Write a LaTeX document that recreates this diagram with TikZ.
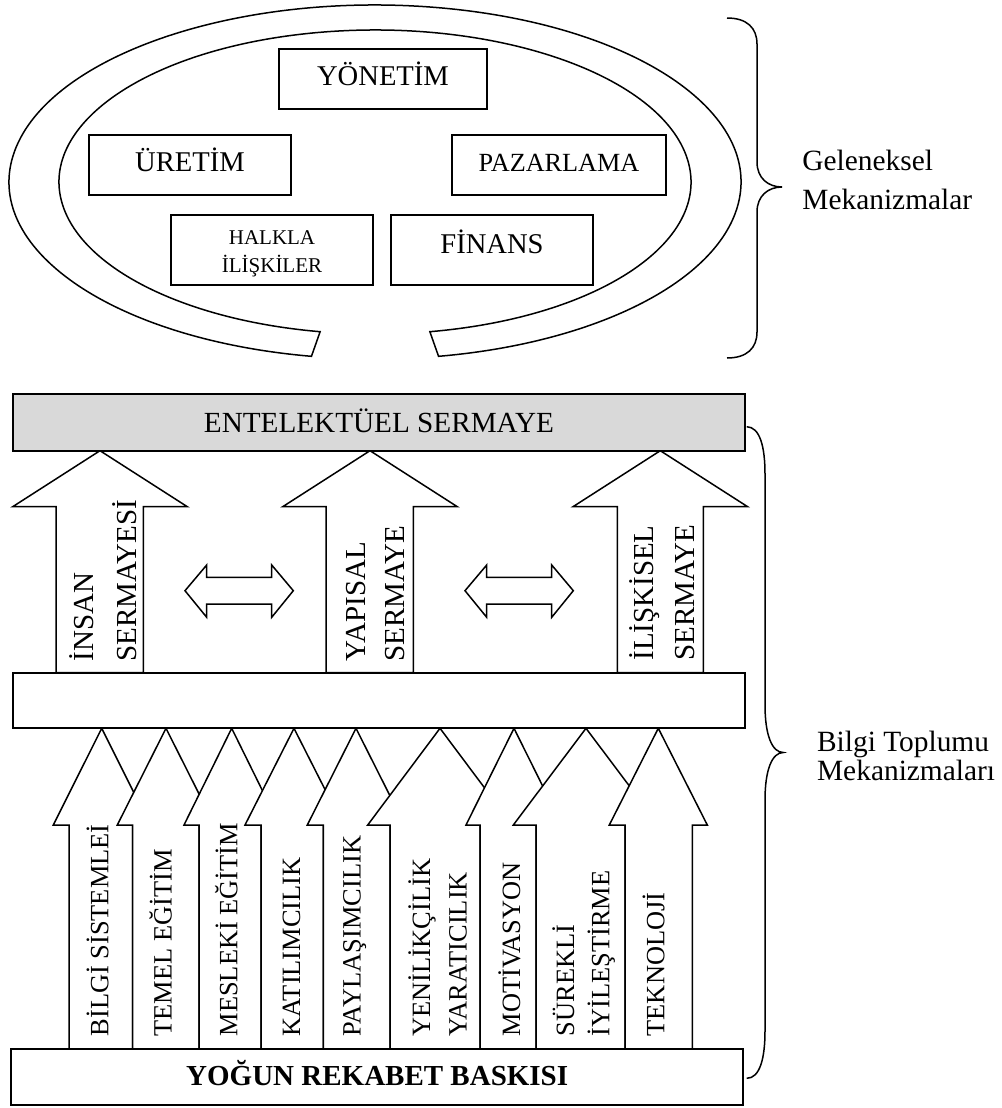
\documentclass[tikz,border=0pt]{standalone}
\usepackage{fontspec}
\setmainfont{Liberation Serif}
\usetikzlibrary{calc}

\definecolor{entgray}{HTML}{D9D9D9}

\begin{document}
\begin{tikzpicture}[
        x=0.5pt, y=0.5pt,
        box/.style={rectangle, draw, fill=white, line width=1pt, inner sep=0pt, font=\fontsize{14.3}{17}\selectfont, text height=9.5pt, text depth=3.5pt},
        graybox/.style={box, fill=entgray, font=\fontsize{14.6}{17}\selectfont, text height=9.7pt, text depth=0pt},
        ring/.style={draw, line width=0.75pt},
        bracepath/.style={draw, line width=0.75pt},
        arrowshape/.style={draw, fill=white, line width=0.75pt, line join=miter},
        vtext/.style={rotate=90, anchor=base west, inner sep=0pt, font=\fontsize{14.5}{17}\selectfont},
        vsmall/.style={vtext, font=\fontsize{13.2}{16}\selectfont},
        sidelabel/.style={anchor=base west, inner sep=0pt, font=\fontsize{14.7}{18}\selectfont}
    ]
    \useasboundingbox (0,0) rectangle (1001,-1108);

    % Open ring round the traditional functions
    \coordinate (ringc) at (375,-182);
    \draw[ring] (ringc) ++(260:366 and 177) arc[start angle=260, end angle=-80, x radius=366, y radius=177]
        -- ($(ringc)+(280:316 and 152)$) arc[start angle=280, end angle=620, x radius=316, y radius=152] -- cycle;

    % Traditional functions
    \node [box, minimum width=104pt, minimum height=30pt] (yonetim) at (383,-79) {YÖNETİM};
    \node [box, minimum width=101pt, minimum height=30pt] (uretim) at (190,-165) {ÜRETİM};
    \node [box, minimum width=107pt, minimum height=30pt, font=\fontsize{13.1}{16}\selectfont] (pazarlama) at (559,-165) {PAZARLAMA};
    \node [box, minimum width=101pt, minimum height=35pt] (halkla) at (272,-250) {};
    \node [align=center, inner sep=0pt, font=\fontsize{10.5}{13.8}\selectfont] (halklatxt) at ([yshift=-2pt]halkla.center) {HALKLA\\İLİŞKİLER};
    \node [box, minimum width=101pt, minimum height=35pt, text depth=6pt] (finans) at (492,-250) {FİNANS};

    % Upper brace
    \draw[bracepath] (727,-18) .. controls (747,-18) and (757,-28) .. (757,-44) -- (757,-162)
        .. controls (757,-178) and (768,-187) .. (782,-187)
        .. controls (768,-187) and (757,-196) .. (757,-212) -- (757,-332)
        .. controls (757,-348) and (747,-358) .. (727,-358);
    \node [sidelabel] (geleneksel) at (802,-170.7) {Geleneksel};
    \node [sidelabel] (mekanizmalar) at (802,-209.3) {Mekanizmalar};

    % Capital arrows
    \foreach \sl/\sr/\tp in {56/143.3/100, 326/413.3/370, 617.3/703.3/660.3}
        \draw[arrowshape] (\sl,-672.7) -- (\sl,-506.7) -- ({\tp-87.3},-506.7) -- (\tp,-450.7)
            -- ({\tp+87.3},-506.7) -- (\sr,-506.7) -- (\sr,-672.7) -- cycle;

    % Two way arrows between them
    \foreach \dx in {185,465}
        \draw[arrowshape] (\dx,-590.7) -- ++(21.7,25.7) -- ++(0,-12.3) -- ++(65,0) -- ++(0,12.3)
            -- ++(21.6,-25.7) -- ++(-21.6,-26.6) -- ++(0,13.3) -- ++(-65,0) -- ++(0,-13.3) -- cycle;

    % Lower arrows, each over the one before
    \foreach \sl/\sr/\tp/\hw in {69/132.7/101.7/48.4, 132.7/199/166/48.7, 199/261/231.7/47.7,
            261/323.3/294/49, 323.3/390/356/48.7, 390/480/440/72.3, 480/536/514/48,
            536/625/586/72.7, 625/692.3/658.3/49}
        \draw[arrowshape] (\sl,-1049.3) -- (\sl,-825) -- ({\tp-\hw},-825) -- (\tp,-728.3)
            -- ({\tp+\hw},-825) -- (\sr,-825) -- (\sr,-1049.3) -- cycle;

    % Bars
    \node [graybox, minimum width=366pt, minimum height=28.2pt] (entelektuel) at (379,-422.5) {ENTELEKTÜEL SERMAYE};
    \node [box, minimum width=366pt, minimum height=27.8pt] (ortabar) at (379,-700.5) {};
    \node [box, minimum width=366pt, minimum height=27.9pt, font=\bfseries\fontsize{14.5}{17}\selectfont, text height=9.7pt, text depth=1.4pt] (rekabet) at (377.2,-1077.2) {YOĞUN REKABET BASKISI};

    % Texts in the capital arrows
    \node [vtext] (insan) at (93.3,-661.7) {İNSAN};
    \node [vtext] (insansermaye) at (136,-661.7) {SERMAYESİ};
    \node [vtext] (yapisal) at (365,-661.7) {YAPISAL};
    \node [vtext] (yapisalsermaye) at (404,-661.7) {SERMAYE};
    \node [vtext] (iliskisel) at (653.3,-661) {İLİŞKİSEL};
    \node [vtext] (iliskiselsermaye) at (694.3,-661) {SERMAYE};

    % Texts in the lower arrows
    \node [vsmall] (bilgisis) at (108.3,-1036.7) {BİLGİ SİSTEMLEİ};
    \node [vsmall] (temel) at (171.7,-1036.7) {TEMEL EĞİTİM};
    \node [vsmall] (mesleki) at (237.3,-1036.7) {MESLEKİ EĞİTİM};
    \node [vsmall] (katilim) at (300,-1036.7) {KATILIMCILIK};
    \node [vsmall] (paylasim) at (360.7,-1036.7) {PAYLAŞIMCILIK};
    \node [vsmall] (yenilik) at (430,-1036.7) {YENİLİKÇİLİK};
    \node [vsmall] (yaratici) at (466.7,-1036.7) {YARATICILIK};
    \node [vsmall] (motivasyon) at (520,-1036.7) {MOTİVASYON};
    \node [vsmall] (surekli) at (574,-1036.7) {SÜREKLİ};
    \node [vsmall] (iyilestirme) at (609.3,-1036.7) {İYİLEŞTİRME};
    \node [vsmall] (teknoloji) at (664.3,-1036.7) {TEKNOLOJİ};

    % Lower brace
    \draw[bracepath] (746.7,-426.7) .. controls (760,-427) and (765,-447) .. (765,-474) -- (765,-705)
        .. controls (765,-735) and (772,-752.5) .. (783.3,-752.5)
        .. controls (772,-752.5) and (765,-770) .. (765,-800) -- (765,-1031)
        .. controls (765,-1058) and (760,-1078.3) .. (746.7,-1078.3);
    \node [sidelabel] (bilgitoplumu) at (816.7,-751) {Bilgi Toplumu};
    \node [sidelabel] (mekanizmalari) at (816.7,-780) {Mekanizmaları};

\end{tikzpicture}
\end{document}
